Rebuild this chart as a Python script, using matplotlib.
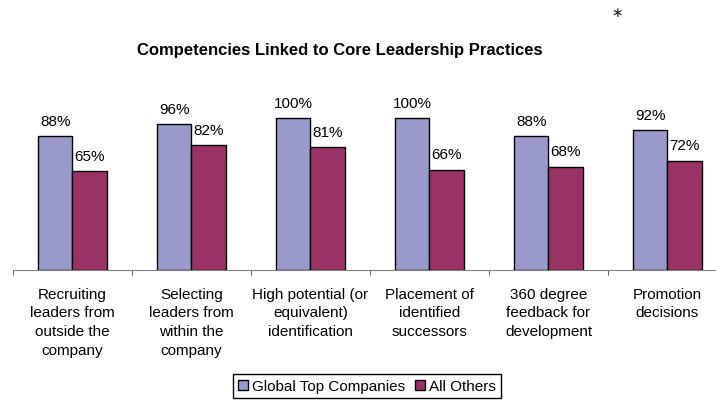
import matplotlib
matplotlib.use("Agg")
import matplotlib.pyplot as plt
import numpy as np
from matplotlib.patches import Patch

categories = [
    "Recruiting\nleaders from\noutside the\ncompany",
    "Selecting\nleaders from\nwithin the\ncompany",
    "High potential (or\nequivalent)\nidentification",
    "Placement of\nidentified\nsuccessors",
    "360 degree\nfeedback for\ndevelopment",
    "Promotion\ndecisions",
]
global_top = [88, 96, 100, 100, 88, 92]
all_others = [65, 82, 81, 66, 68, 72]
series_names = ["Global Top Companies", "All Others"]

plt.rcParams["font.family"] = ["Liberation Sans", "DejaVu Sans"]

fig = plt.figure(figsize=(7.16, 4.06), dpi=100)
ax = fig.add_axes([13 / 716, 135 / 406, 714 / 716, 171 / 406])

x = np.arange(len(categories))
w = 0.286
blue = "#9999CC"
red = "#993366"
b1 = ax.bar(x - w / 2, global_top, w, color=blue, edgecolor="black", linewidth=1)
b2 = ax.bar(x + w / 2, all_others, w, color=red, edgecolor="black", linewidth=1)

for rect, v in zip(b1, global_top):
    ax.text(rect.get_x() + rect.get_width() / 2, v + 5.5, f"{v}%",
            ha="center", va="bottom", fontsize=11)
for rect, v in zip(b2, all_others):
    ax.text(rect.get_x() + rect.get_width() / 2, v + 5.5, f"{v}%",
            ha="center", va="bottom", fontsize=11)

ax.set_xlim(-0.5, 5.5)
ax.set_ylim(0, 112.5)
for s in ["top", "left", "right"]:
    ax.spines[s].set_visible(False)
ax.spines["bottom"].set_color("#808080")
ax.set_yticks([])
ax.set_xticks(x)
ax.set_xticklabels(categories, fontsize=11, linespacing=1.42, va="top")
ax.tick_params(axis="x", which="major", length=0, pad=12)
ax.set_xticks(np.arange(-0.5, 6.0, 1.0), minor=True)
ax.tick_params(axis="x", which="minor", length=3.5, color="#404040", direction="out")

fig.text(340 / 716, 1 - 50 / 406, "Competencies Linked to Core Leadership Practices",
         ha="center", va="center", fontsize=12, fontweight="bold")
fig.text(617 / 716, 1 - 13 / 406, "\u2217", ha="center", va="center", fontsize=10,
         family=["DejaVu Sans"], color="#222222")

handles = [Patch(facecolor=blue, edgecolor="black"), Patch(facecolor=red, edgecolor="black")]
leg = fig.legend(handles, series_names, loc="center", bbox_to_anchor=(367 / 716, 1 - 387 / 406),
                 ncol=2, fontsize=11, fancybox=False, framealpha=1, edgecolor="black",
                 handlelength=0.65, handleheight=0.65, handletextpad=0.3, columnspacing=0.6,
                 borderpad=0.3)
leg.get_frame().set_linewidth(1)

fig.savefig("out.png", dpi=100)
